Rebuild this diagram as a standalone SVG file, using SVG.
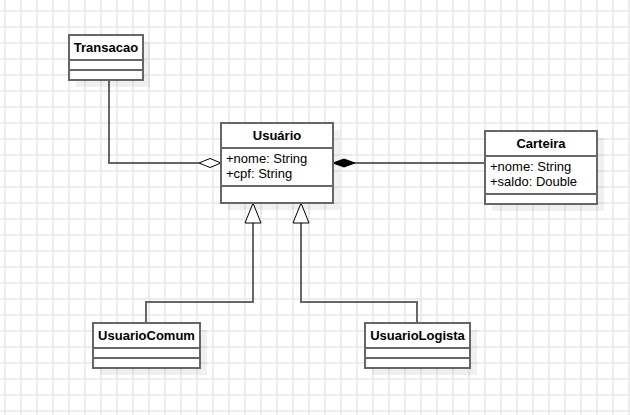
<svg xmlns="http://www.w3.org/2000/svg" width="630" height="415" viewBox="0 0 630 415">
  <defs>
    <pattern id="grid" x="4" y="10" width="16" height="16" patternUnits="userSpaceOnUse">
      <path d="M0 1 H16 M1 0 V16" fill="none" stroke="#ececec" stroke-width="2"/>
    </pattern>
    <style>
      .box { fill: #ffffff; stroke: #666666; stroke-width: 2; }
      .sep { stroke: #666666; stroke-width: 2; fill: none; }
      .shadow { fill: #000000; fill-opacity: 0.06; }
      .title { font-family: "Liberation Sans", Arial, sans-serif; font-size: 13px; font-weight: bold; text-anchor: middle; fill: #000000; }
      .attr { font-family: "Liberation Sans", Arial, sans-serif; font-size: 13px; fill: #000000; }
      .edge { fill: none; stroke: #666666; stroke-width: 2; }
      .head { stroke: #000000; stroke-width: 1; }
    </style>
  </defs>
  <rect width="630" height="415" fill="#ffffff"/>
  <rect width="630" height="415" fill="url(#grid)"/>

  <g id="connectors">
    <path class="edge" d="M109 80 V163 H199"/>
    <path class="head" d="M199 163 L210 158.5 L221 163 L210 167.5 Z" fill="#ffffff"/>
    <path class="edge" d="M485 163 H355"/>
    <path class="head" d="M333 163 L344 159 L355 163 L344 167 Z" fill="#000000"/>
    <path class="edge" d="M146 323 V302 H253 V223"/>
    <path class="head" d="M253 203 L245 223 L261 223 Z" fill="#ffffff"/>
    <path class="edge" d="M417 323 V302 H301 V223"/>
    <path class="head" d="M301 203 L293 223 L309 223 Z" fill="#ffffff"/>
  </g>

  <g id="Transacao">
    <rect class="shadow" x="76" y="42" width="74" height="45"/>
    <rect class="box" x="69" y="35" width="74" height="45"/>
    <path class="sep" d="M69 60 H143 M69 70 H143"/>
    <text class="title" x="106" y="52">Transacao</text>
  </g>

  <g id="Usuario">
    <rect class="shadow" x="228" y="130" width="112" height="80"/>
    <rect class="box" x="221" y="123" width="112" height="80"/>
    <path class="sep" d="M221 148 H333 M221 186 H333"/>
    <text class="title" x="277" y="140">Usuário</text>
    <text class="attr" x="226" y="163">+nome: String</text>
    <text class="attr" x="226" y="178">+cpf: String</text>
  </g>

  <g id="Carteira">
    <rect class="shadow" x="492" y="138" width="112" height="73"/>
    <rect class="box" x="485" y="131" width="112" height="73"/>
    <path class="sep" d="M485 156 H597 M485 194 H597"/>
    <text class="title" x="541" y="148">Carteira</text>
    <text class="attr" x="490" y="171">+nome: String</text>
    <text class="attr" x="490" y="186">+saldo: Double</text>
  </g>

  <g id="UsuarioComum">
    <rect class="shadow" x="100" y="330" width="107" height="45"/>
    <rect class="box" x="93" y="323" width="107" height="45"/>
    <path class="sep" d="M93 348 H200 M93 358 H200"/>
    <text class="title" x="146.5" y="340">UsuarioComum</text>
  </g>

  <g id="UsuarioLogista">
    <rect class="shadow" x="372" y="330" width="105" height="45"/>
    <rect class="box" x="365" y="323" width="105" height="45"/>
    <path class="sep" d="M365 348 H470 M365 358 H470"/>
    <text class="title" x="417.5" y="340">UsuarioLogista</text>
  </g>
</svg>
